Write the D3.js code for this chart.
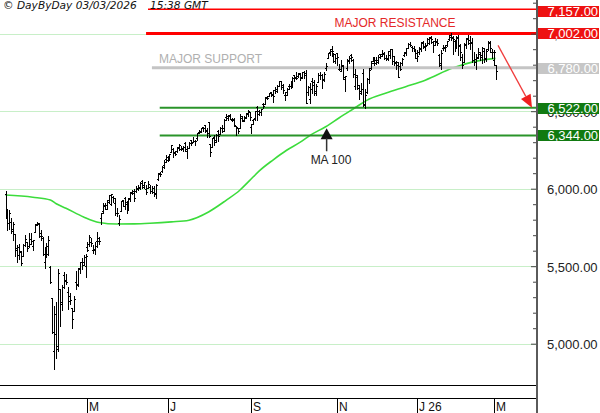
<!DOCTYPE html>
<html><head><meta charset="utf-8">
<script src="https://cdn.jsdelivr.net/npm/d3@7"></script>
<style>
body{margin:0;background:#fff}
svg{display:block}
text{font-family:"Liberation Sans",Arial,sans-serif}
</style>
</head><body>
<svg id="c" width="600" height="413"></svg>
<script>
// ---- DATA (S&P 500 daily, 03 Mar 2025 -> 03 Mar 2026), one entry per trading day ----
const opens = [
5968,5811,5781,5785,5726,5705,5604,5624,5594,5563,5635,5655,5632,5646,5630,5718,5775,5772,5696,5679,5527,
5597,5580,5492,5292,4953,5193,4966,5353,5255,5441,5411,5335,5305,5232,5208,5395,5382,5489,5529,5508,5500,
5626,5646,5655,5605,5614,5664,5679,5808,5853,5896,5870,5929,5902,5944,5910,5841,5781,5855,5925,5939,5903,
5896,5939,5978,5985,5987,6005,6009,6050,6010,6000,6005,6012,5987,6004,5970,6061,6104,6112,6151,6193,
6187,6193,6240,6259,6240,6243,6268,6256,6255,6296,6255,6264,6312,6304,6306,6326,6369,6370,6397,6409,6377,6428,
6287,6272,6336,6311,6375,6356,6390,6394,6461,6453,6478,6445,6446,6405,6390,6394,6458,6445,6457,6489,6494,
6401,6444,6456,6530,6500,6498,6545,6545,6590,6601,6623,6609,6637,6641,6660,6692,6670,6605,6621,6661,6664,
6668,6732,6722,6729,6745,6723,6751,6744,6621,6577,6695,6690,6617,6687,6736,6735,6707,6777,6844,6884,6904,6873,6867,
6873,6772,6760,6790,6707,6776,6822,6862,6830,6663,6722,6650,6630,6748,6547,6625,6705,6776,6822,
6812,6830,6815,6866,6866,6873,6844,6836,6865,6901,6855,6808,6817,6791,6808,6865,6880,6910,6935,6915,6907,6899,
6878,6880,6905,6941,6915,6930,6940,6975,6945,6955,6955,6860,6810,6910,6905,6925,6965,6990,6975,6950,
6925,6975,6925,6850,6820,6925,6970,6960,6945,6830,6820,6850,6870,6850,6890,6840,6900,6940,6880,
6830,6800];
const highs = [
5986,5866,5860,5812,5783,5705,5636,5642,5598,5645,5703,5659,5715,5711,5670,5775,5786,5777,5732,5690,5627,
5650,5695,5500,5292,5246,5267,5481,5353,5381,5460,5450,5368,5328,5233,5310,5469,5486,5528,5554,5571,5581,
5658,5700,5684,5638,5654,5720,5691,5845,5906,5906,5924,5958,5968,5953,5939,5878,5829,5923,5930,5944,5922,
5937,5981,5991,5999,6017,6021,6043,6059,6045,6026,6050,6024,6018,6018,6028,6101,6108,6146,6187,6216,
6210,6227,6284,6262,6242,6269,6290,6275,6273,6303,6274,6304,6315,6336,6316,6360,6381,6390,6401,6409,6394,6428,
6288,6330,6344,6352,6379,6395,6409,6447,6480,6474,6482,6458,6457,6407,6394,6482,6467,6466,6487,6505,6495,
6416,6450,6502,6532,6507,6512,6555,6592,6601,6616,6627,6638,6656,6671,6695,6693,6676,6626,6650,6676,6693,
6718,6736,6750,6749,6749,6754,6757,6764,6665,6680,6713,6702,6675,6744,6752,6740,6750,6808,6876,6900,6920,6876,6870,
6877,6803,6832,6799,6729,6838,6855,6869,6836,6775,6735,6670,6682,6771,6643,6717,6780,6823,6851,
6843,6851,6862,6867,6895,6879,6864,6889,6904,6902,6856,6825,6820,6816,6846,6880,6910,6937,6945,6923,6920,6903,
6894,6914,6946,6950,6940,6970,6980,6986,6950,6970,6965,6870,6895,6930,6925,6955,6990,7002,6985,6960,
6985,6990,6935,6870,6940,6975,6990,6985,6970,6880,6870,6905,6885,6915,6905,6900,6955,6950,6900,
6895,6800];
const lows = [
5810,5732,5743,5711,5666,5565,5528,5546,5505,5563,5631,5598,5622,5640,5603,5718,5765,5691,5670,5572,5489,
5558,5571,5390,5069,4835,4910,4950,5115,5220,5359,5387,5221,5255,5102,5208,5356,5372,5455,5479,5506,5433,
5597,5628,5629,5587,5579,5627,5642,5773,5845,5868,5867,5907,5895,5911,5830,5826,5767,5855,5886,5872,5843,
5861,5921,5967,5921,5978,5994,6000,6003,6004,5963,6005,5974,5971,5952,5943,6055,6081,6107,6133,6174,
6177,6188,6240,6202,6217,6236,6251,6252,6243,6242,6201,6264,6285,6303,6282,6315,6360,6365,6375,6363,6334,6331,
6212,6272,6282,6303,6305,6350,6364,6374,6445,6441,6447,6437,6404,6344,6360,6389,6437,6437,6453,6470,6445,
6360,6418,6444,6444,6478,6477,6523,6545,6577,6596,6598,6560,6615,6626,6660,6641,6618,6570,6603,6642,6651,
6657,6694,6707,6718,6700,6715,6712,6550,6606,6551,6619,6605,6603,6686,6710,6652,6696,6768,6840,6864,6855,6818,6810,
6800,6766,6758,6707,6631,6765,6812,6822,6723,6646,6645,6578,6608,6535,6521,6620,6683,6772,6822,
6800,6806,6810,6840,6858,6838,6828,6828,6841,6802,6801,6775,6719,6763,6800,6856,6864,6906,6921,6890,6891,6844,
6824,6870,6890,6910,6895,6925,6935,6940,6880,6925,6925,6790,6775,6895,6890,6920,6960,6960,6870,6890,
6910,6860,6830,6780,6815,6910,6935,6900,6820,6795,6775,6840,6830,6810,6820,6825,6895,6880,6840,
6800,6710];
const closes = [
5849,5778,5842,5738,5770,5615,5572,5599,5522,5639,5675,5615,5675,5663,5668,5768,5777,5712,5693,5581,5612,
5633,5671,5396,5074,5062,4982,5457,5268,5363,5406,5396,5275,5283,5158,5288,5376,5484,5525,5529,5561,5569,
5604,5686,5650,5607,5631,5664,5660,5844,5886,5892,5917,5958,5964,5940,5845,5842,5802,5922,5889,5912,5912,
5936,5970,5971,5939,6000,6006,6038,6022,6045,5977,6033,5982,5981,5967,6025,6092,6092,6141,6173,6205,
6198,6227,6279,6230,6226,6263,6280,6260,6268,6244,6264,6297,6297,6306,6309,6359,6363,6389,6390,6371,6362,6339,
6238,6330,6299,6345,6340,6389,6374,6446,6466,6469,6450,6449,6411,6396,6370,6467,6439,6465,6481,6502,6460,
6416,6448,6502,6482,6495,6512,6532,6587,6584,6615,6607,6600,6631,6664,6693,6656,6638,6605,6644,6661,6688,
6711,6715,6716,6740,6714,6753,6735,6553,6654,6644,6671,6630,6664,6736,6735,6699,6738,6792,6875,6891,6890,6822,6840,
6852,6771,6796,6720,6728,6832,6846,6851,6737,6734,6672,6617,6642,6538,6603,6705,6766,6813,6849,
6813,6829,6850,6857,6870,6846,6840,6886,6901,6827,6816,6800,6721,6775,6835,6878,6910,6932,6930,6905,6896,6845,
6858,6902,6945,6921,6921,6966,6977,6963,6926,6944,6940,6797,6876,6913,6916,6950,6979,6978,6969,6939,
6976,6918,6883,6798,6932,6965,6942,6941,6833,6836,6843,6881,6862,6910,6837,6890,6946,6908,6879,
6882,6760];

// 100-day moving average at selected trading-day indices
const maIndex = [0,14,23,26,31,40,48,57,66,74,85,94,104,113,120,125,130,137,144,151,156,164,171,179,185,195,205,215,229,240,251];
const maValue = [5959,5945,5927,5903,5874,5818,5782,5772,5773,5777,5786,5797,5850,5925,5990,6052,6115,6185,6248,6300,6344,6400,6458,6522,6570,6617,6658,6700,6778,6820,6841];

// month ticks (label + trading-day index of first session of that month)
const monthLabels = ["M","J","S","N","J 26","M"];
const monthIndex = [42,83,126,170,211,250];

// price axis
const yLabelValues = [5000,5500,6000,6500,7000];
const yMinorTicks = d3.range(5000,7201,100);

// key levels
const levelValues = [7157,7002,6780,6522,6344];
const levelLabels = ["7,157.00","7,002.00","6,780.00","6,522.00","6,344.00"];
const levelKinds  = ["res","res","sup","tgt","tgt"];
const levelStart  = [73,72,75,79,79];

// ---- DRAW ----
const svg = d3.select("#c");
const axisX = 537, plotR = 536;
const x = d3.scaleLinear().domain([0,251]).range([5.5,495.5]);
const y = d3.scaleLinear().domain([5000,7000]).range([343.7,33.7]);
const px = i => Math.round(x(i)) + 0.5;
const py = v => Math.round(y(v)) + 0.5;

// gridlines
svg.append("g").selectAll("line").data(yLabelValues).join("line")
  .attr("x1",0).attr("x2",plotR).attr("y1",py).attr("y2",py)
  .attr("stroke","#c8efc8").attr("stroke-width",1).attr("shape-rendering","crispEdges");

// moving average
const maPts = maIndex.map((d,k)=>[d,maValue[k]]);
svg.append("path").datum(maPts)
  .attr("d", d3.line().x(d=>x(d[0])).y(d=>y(d[1])).curve(d3.curveMonotoneX))
  .attr("fill","none").attr("stroke","#3cdc3c").attr("stroke-width",1.6);

// levels
const kindStyle = {res:{c:"#ff0000"}, sup:{c:"#c4c4c4"}, tgt:{c:"#2a942a"}};
const levelWidth = [1.5,3,3,2,2];
svg.append("g").selectAll("line").data(levelValues).join("line")
  .attr("x1",(d,k)=>x(levelStart[k])).attr("x2",plotR)
  .attr("y1",d=>y(d)).attr("y2",d=>y(d))
  .attr("stroke",(d,k)=>kindStyle[levelKinds[k]].c)
  .attr("stroke-width",(d,k)=>levelWidth[k]);

// OHLC bars
const bars = svg.append("g").attr("stroke","#000").attr("stroke-width",1).attr("shape-rendering","crispEdges").attr("fill","none");
bars.selectAll("path").data(d3.range(closes.length)).join("path")
  .attr("d", i => {
    const X = px(i);
    return `M${X},${Math.round(y(highs[i]))}V${Math.round(y(lows[i]))+1}` +
           `M${X-1.5},${py(opens[i])}H${X}` +
           `M${X},${py(closes[i])}H${X+1.5}`;
  });

// bottom separators
svg.append("g").selectAll("line").data([385.5,398.5]).join("line")
  .attr("x1",0).attr("x2",plotR).attr("y1",d=>d).attr("y2",d=>d)
  .attr("stroke","#000").attr("shape-rendering","crispEdges");

// month ticks & labels
const mt = svg.append("g");
mt.selectAll("line").data(monthIndex).join("line")
  .attr("x1",d=>px(d)).attr("x2",d=>px(d)).attr("y1",398).attr("y2",413)
  .attr("stroke","#000").attr("shape-rendering","crispEdges");
mt.selectAll("text").data(monthLabels).join("text")
  .attr("x",(d,k)=>px(monthIndex[k])+1.5).attr("y",410.5)
  .attr("font-size",12).attr("fill","#111").text(d=>d);

// right axis ticks
const ax = svg.append("g").attr("transform",`translate(${axisX-1},0)`);
ax.call(d3.axisLeft(y).tickValues(yMinorTicks).tickFormat("").tickSizeOuter(0));
ax.select(".domain").remove();
ax.selectAll(".tick line").attr("stroke","#444")
  .attr("x2", d => d%500===0 ? -5 : -3);
svg.append("line").attr("x1",axisX).attr("x2",axisX).attr("y1",0).attr("y2",413)
  .attr("stroke","#5a5a5a").attr("stroke-width",2);

// right axis labels
const lab = svg.append("g").attr("transform",`translate(${axisX},0)`);
lab.call(d3.axisRight(y).tickValues(yLabelValues).tickSize(0).tickPadding(10).tickFormat(d3.format(",.2f")));
lab.select(".domain").remove();
lab.selectAll("text").attr("font-family","Liberation Sans, Arial, sans-serif")
  .attr("font-size",13).attr("fill","#222").attr("dy",null).attr("dominant-baseline",null)
  .attr("y",5);

// level label boxes
const boxFill = {res:"#ee1111", sup:"#c6c6c6", tgt:"#117a11"};
const lb = svg.append("g").selectAll("g").data(levelValues).join("g")
  .attr("transform",d=>`translate(${axisX+1},${Math.max(6, Math.round(y(d))-5)})`);
lb.append("rect").attr("width",61).attr("height",11)
  .attr("fill",(d,k)=>boxFill[levelKinds[k]]);
lb.append("text").attr("x",9.5).attr("y",10).attr("font-size",13).attr("fill","#fff")
  .text((d,k)=>levelLabels[k]);

// annotations
svg.append("text").attr("x",x(199.5)).attr("y",y(7002)-6).attr("text-anchor","middle")
  .attr("font-size",12).attr("fill","#e42828").text("MAJOR RESISTANCE");
svg.append("text").attr("x",x(78.6)).attr("y",y(6780)-5)
  .attr("font-size",12).attr("fill","#b0b0b0").text("MAJOR SUPPORT");

// red arrow towards 6,522
const a0 = [x(252.3), y(6925)], a1 = [x(269.7), y(6522)];
const ang = Math.atan2(a1[1]-a0[1], a1[0]-a0[0]);
const hl = 13, hw = 5.5;
const back = [a1[0]-hl*Math.cos(ang), a1[1]-hl*Math.sin(ang)];
svg.append("line").attr("x1",a0[0]).attr("y1",a0[1]).attr("x2",back[0]).attr("y2",back[1])
  .attr("stroke","#f03c3c").attr("stroke-width",1.3);
svg.append("path").attr("fill","#f02020").attr("d",
  `M${a1[0]},${a1[1]}L${back[0]+hw*Math.sin(ang)},${back[1]-hw*Math.cos(ang)}L${back[0]-hw*Math.sin(ang)},${back[1]+hw*Math.cos(ang)}Z`);

// MA 100 marker
const tx = x(164.5), ty = y(6390);
svg.append("path").attr("d",`M${tx},${ty}L${tx+6},${ty+11}L${tx-6},${ty+11}Z`).attr("fill","#111");
svg.append("line").attr("x1",tx).attr("x2",tx).attr("y1",ty+10).attr("y2",ty+23)
  .attr("stroke","#333").attr("stroke-width",1.5);
svg.append("text").attr("x",tx-16).attr("y",ty+36).attr("font-size",12).attr("fill","#222").text("MA 100");

// header
const hdr = svg.append("g").attr("font-style","italic").attr("font-size",10.6).attr("fill","#111");
hdr.append("text").attr("x",3).attr("y",9).style("font-family","DejaVu Sans, Verdana, sans-serif").text("© DayByDay 03/03/2026");
hdr.append("text").attr("x",150).attr("y",9).style("font-family","DejaVu Sans, Verdana, sans-serif").text("15:38 GMT");
</script>
</body></html>
